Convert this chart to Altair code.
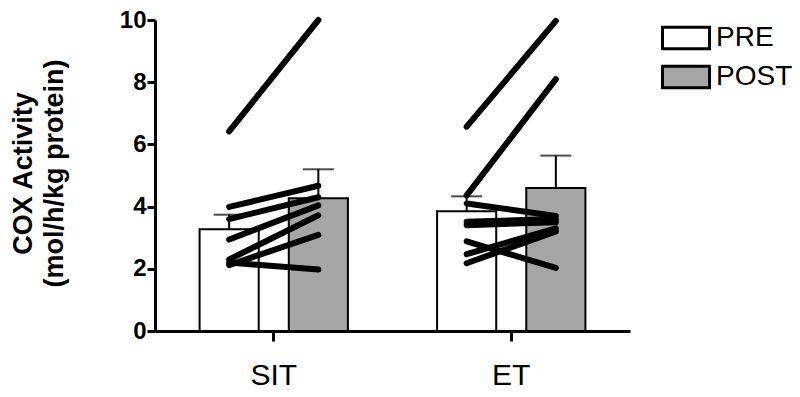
import altair as alt
import pandas as pd

groups = ["SIT", "ET"]
times = ["PRE", "POST"]

# bar means and mean+SD (upper error bar end)
bar_group = ["SIT", "SIT", "ET", "ET"]
bar_time = ["PRE", "POST", "PRE", "POST"]
bar_mean = [3.27, 4.27, 3.85, 4.60]
bar_upper = [3.74, 5.20, 4.33, 5.64]

# individual subjects
sit_pre = [6.42, 3.99, 3.60, 2.94, 2.30, 2.20, 2.12]
sit_post = [10.0, 4.67, 4.30, 4.04, 3.72, 1.98, 3.09]
et_pre = [6.57, 4.36, 4.10, 3.51, 3.40, 2.88, 2.47, 2.18]
et_post = [9.97, 8.10, 3.70, 3.60, 3.50, 2.03, 3.30, 3.20]

df_bars = pd.DataFrame({"group": bar_group, "time": bar_time,
                        "mean": bar_mean, "upper": bar_upper})

rows = []
for g, pre, post in [("SIT", sit_pre, sit_post), ("ET", et_pre, et_post)]:
    for i, (a, b) in enumerate(zip(pre, post)):
        rows.append({"group": g, "time": "PRE", "subject": f"{g}{i}", "value": a})
        rows.append({"group": g, "time": "POST", "subject": f"{g}{i}", "value": b})
df_lines = pd.DataFrame(rows)

FONT = "Liberation Sans"

x_enc = alt.X("group:N", sort=groups,
              scale=alt.Scale(paddingInner=0.3755, paddingOuter=0.18775),
              axis=alt.Axis(title=None, labelAngle=0, labelFontSize=30, labelFont=FONT,
                            labelColor="black", labelPadding=19, tickSize=10, tickWidth=3,
                            tickColor="black", domainWidth=3, domainColor="black"))
xo_enc = alt.XOffset("time:N", sort=times,
                     scale=alt.Scale(type="band", paddingInner=0.337, paddingOuter=0))
y_scale = alt.Scale(domain=[0, 10], nice=False)
y_axis = alt.Axis(title=["COX Activity", "(mol/h/kg protein)"], titleFontSize=27,
                  titleFont=FONT, titleFontWeight="bold", titleColor="black",
                  titleAngle=-90, titleBaseline="middle", titleAlign="center",
                  titleX=-132, titleY=153, titleLineHeight=31,
                  values=list(range(0, 11)),
                  labelExpr="datum.value % 2 == 0 ? datum.label : ''",
                  labelFontSize=24, labelFont=FONT, labelFontWeight="bold",
                  labelColor="black", labelPadding=1, tickSize=8, tickWidth=3,
                  tickColor="black", domainWidth=3, domainColor="black", grid=False)

bars = alt.Chart(df_bars).mark_bar(stroke="black", strokeWidth=2).encode(
    x=x_enc, xOffset=xo_enc,
    y=alt.Y("mean:Q", scale=y_scale, axis=y_axis),
    fill=alt.Fill("time:N", sort=times,
                  scale=alt.Scale(domain=times, range=["white", "#a6a6a6"]),
                  legend=alt.Legend(title=None, orient="none", legendX=506, legendY=-1.5,
                                    symbolType="M-1,-0.46L1,-0.46L1,0.46L-1,0.46Z",
                                    symbolSize=2209, symbolStrokeColor="black",
                                    symbolStrokeWidth=3, labelFontSize=28, labelFont=FONT,
                                    labelColor="black", labelOffset=5, clipHeight=39,
                                    rowPadding=0, padding=0)),
)

err = alt.Chart(df_bars).mark_rule(color="black", strokeWidth=2).encode(
    x=x_enc, xOffset=xo_enc,
    y=alt.Y("mean:Q", scale=y_scale), y2="upper:Q",
)
caps = alt.Chart(df_bars).mark_tick(color="black", thickness=2, size=31).encode(
    x=x_enc, xOffset=xo_enc,
    y=alt.Y("upper:Q", scale=y_scale),
)
lines = alt.Chart(df_lines).mark_line(color="black", strokeWidth=6, strokeCap="round").encode(
    x=x_enc, xOffset=xo_enc,
    y=alt.Y("value:Q", scale=y_scale),
    detail="subject:N",
    order=alt.Order("time_order:Q"),
).transform_calculate(time_order="datum.time == 'PRE' ? 0 : 1")

chart = alt.layer(bars, err, caps, lines).properties(
    width=475, height=311,
    autosize=alt.AutoSizeParams(type="none"),
    padding={"left": 147, "top": 12, "right": 162, "bottom": 58},
    background="white",
).configure_view(strokeWidth=0)

chart.save("out.html", embed_options={"renderer": "svg", "actions": False})
